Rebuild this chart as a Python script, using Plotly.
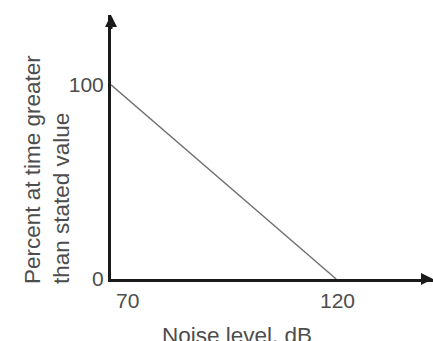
import plotly.graph_objects as go

# Data
noise_db = [70, 120]
percent = [100, 0]
x_tick_vals = [70, 120]
x_tick_text = ["70", "120"]
y_tick_vals = [0, 100]
y_tick_text = ["0", "100"]

FONT = "Arial, Liberation Sans, Helvetica, sans-serif"
TEXT_COLOR = "#4d4d4d"
AXIS_COLOR = "#1a1a1a"

X_MAX = 141.5
Y_MAX = 136.0

fig = go.Figure()
fig.add_trace(go.Scatter(
    x=noise_db, y=percent, mode="lines",
    line=dict(color="#707070", width=1.4),
    showlegend=False, hoverinfo="skip", cliponaxis=False,
))

fig.update_layout(
    width=433, height=341,
    margin=dict(l=111, r=0, t=15, b=62, pad=0),
    paper_bgcolor="white", plot_bgcolor="white",
    font=dict(family=FONT, size=21, color=TEXT_COLOR),
    xaxis=dict(range=[70, X_MAX], showgrid=False, zeroline=False,
               showline=True, linewidth=3, linecolor=AXIS_COLOR,
               showticklabels=False, ticks=""),
    yaxis=dict(range=[0, Y_MAX], showgrid=False, zeroline=False,
               showline=True, linewidth=3, linecolor=AXIS_COLOR,
               tickmode="array", tickvals=y_tick_vals, ticktext=y_tick_text,
               ticks="", ticklabelstandoff=0,
               tickfont=dict(family=FONT, size=21, color=TEXT_COLOR)),
)

annotations = []
# x tick labels
for v, t in zip(x_tick_vals, x_tick_text):
    first = v == x_tick_vals[0]
    annotations.append(dict(
        x=v, y=0, xref="x", yref="y", text=t, showarrow=False,
        xanchor="left" if first else "center", yanchor="top",
        xshift=3 if first else 1, yshift=-8,
        font=dict(family=FONT, size=21, color=TEXT_COLOR),
    ))
# axis arrows
annotations.append(dict(x=X_MAX, y=0, ax=X_MAX - 3, ay=0, xref="x", yref="y",
                        axref="x", ayref="y", text="", showarrow=True,
                        arrowhead=2, arrowsize=0.8, arrowwidth=3, arrowcolor=AXIS_COLOR))
annotations.append(dict(x=70, y=Y_MAX, ax=70, ay=Y_MAX - 8, xref="x", yref="y",
                        axref="x", ayref="y", text="", showarrow=True,
                        arrowhead=2, arrowsize=0.8, arrowwidth=3, arrowcolor=AXIS_COLOR))
# axis titles
annotations.append(dict(
    x=(236.5 - 111) / 322, y=(279 - 321) / 264, xref="paper", yref="paper",
    text="Noise level, dB", showarrow=False, xanchor="center", yanchor="top",
    font=dict(family=FONT, size=22.5, color=TEXT_COLOR),
))
annotations.append(dict(
    x=(47 - 111) / 322, y=(279 - 170) / 264, xref="paper", yref="paper",
    text="Percent at time greater<br>than stated value", showarrow=False,
    textangle=-90, align="left", xanchor="center", yanchor="middle",
    font=dict(family=FONT, size=22.5, color=TEXT_COLOR),
))
fig.update_layout(annotations=annotations)

fig.write_html(
    "out.html",
    config={"displayModeBar": False, "staticPlot": True},
    post_script="document.body.style.margin='0';document.body.style.overflow='hidden';",
)
